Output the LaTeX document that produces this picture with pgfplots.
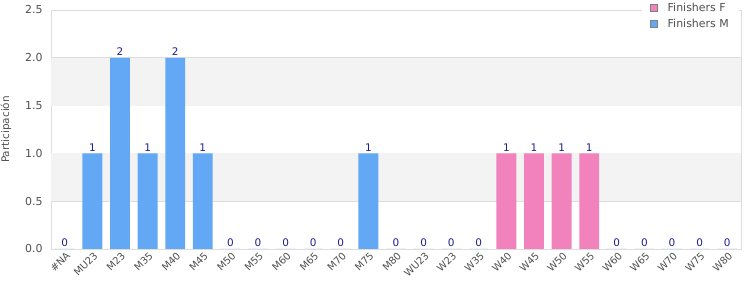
\documentclass[border=0pt]{standalone}
\usepackage{fontspec}
\setmainfont{DejaVu Sans}
\usepackage{pgfplots}
\pgfplotsset{compat=1.18}
\definecolor{barM}{RGB}{98,168,244}
\definecolor{barF}{RGB}{242,130,188}
\definecolor{lbl}{RGB}{30,30,140}
\definecolor{band}{RGB}{243,243,243}
\definecolor{gridc}{RGB}{221,221,221}
\definecolor{tickc}{RGB}{80,80,80}
\begin{document}
\begin{tikzpicture}
\begin{axis}[
  scale only axis, width=690bp, height=239bp,
  xmin=-0.5, xmax=24.5, ymin=0, ymax=2.5,
  ytick={0,0.5,1,1.5,2,2.5},
  yticklabel style={/pgf/number format/fixed, /pgf/number format/fixed zerofill, /pgf/number format/precision=1, font=\fontsize{11}{12}\selectfont, text=tickc, xshift=-5bp},
  /pgf/number format/assume math mode=true,
  xtick={0,...,24},
  xticklabels={\#NA,MU23,M23,M35,M40,M45,M50,M55,M60,M65,M70,M75,M80,WU23,W23,W35,W40,W45,W50,W55,W60,W65,W70,W75,W80},
  xticklabel style={rotate=45, anchor=north east, font=\fontsize{10}{11}\selectfont, text=tickc, inner sep=1pt, yshift=-1bp},
  major tick length=0pt,
  ymajorgrids, grid style={gridc, line width=0.6pt},
  axis line style={gridc, line width=0.8pt},
  ylabel={Participación},
  ylabel style={font=\fontsize{10.5}{11}\selectfont, text=tickc},
  ylabel shift=7pt,
  ybar, bar shift=0pt, bar width=0.72,
  nodes near coords,
  nodes near coords style={font=\fontsize{10.5}{11}\selectfont, text=lbl, inner sep=2pt},
  legend style={at={(1,1.045)}, anchor=north east, xshift=-2bp, draw=none, fill=white, font=\fontsize{11}{13}\selectfont, text=tickc, row sep=2pt, inner xsep=8bp, inner ysep=1.5pt},
  legend cell align=left,
  legend image code/.code={\draw[#1, draw=gray, line width=0.6pt] (0bp,-3.5bp) rectangle (7bp,3.5bp); \path (15bp,0);},
]
\fill[band] (axis cs:-0.5,0.5) rectangle (axis cs:24.5,1.0);
\fill[band] (axis cs:-0.5,1.5) rectangle (axis cs:24.5,2.0);
\addplot[fill=barF, draw=none] coordinates {(16,1) (17,1) (18,1) (19,1)};
\addlegendentry{Finishers F}
\addplot[fill=barM, draw=none] coordinates {
(0,0) (1,1) (2,2) (3,1) (4,2) (5,1) (6,0) (7,0) (8,0) (9,0) (10,0) (11,1) (12,0)
(13,0) (14,0) (15,0) (20,0) (21,0) (22,0) (23,0) (24,0)};
\addlegendentry{Finishers M}
\end{axis}
\pgfresetboundingbox
\path (-51bp,-51bp) rectangle (699bp,249bp);
\end{tikzpicture}
\end{document}
